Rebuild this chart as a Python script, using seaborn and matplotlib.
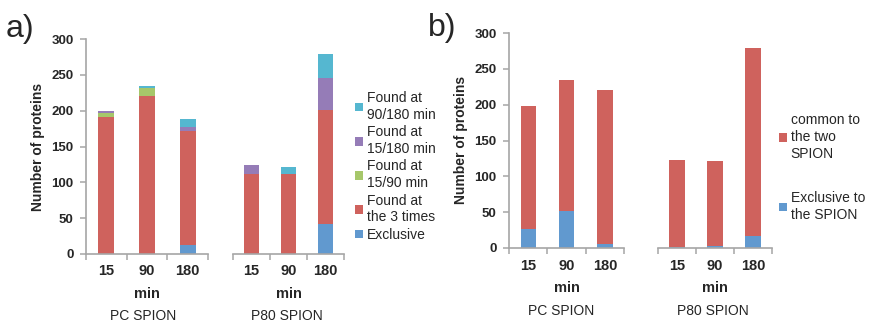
import matplotlib
matplotlib.use("Agg")
import matplotlib.pyplot as plt
from matplotlib.patches import Patch
import numpy as np
import pandas as pd
import seaborn as sns

# ---- data ----
times = ["15", "90", "180"]

# panel a: proteins per incubation time, split by where they were found
pc_exclusive = [0, 0, 12]
pc_three_times = [191, 220, 160]
pc_15_90 = [6, 12, 0]
pc_15_180 = [3, 0, 5]
pc_90_180 = [0, 2, 12]

p80_exclusive = [0, 0, 42]
p80_three_times = [112, 112, 159]
p80_15_90 = [0, 0, 0]
p80_15_180 = [12, 0, 44]
p80_90_180 = [0, 10, 34]

# panel b: proteins exclusive to one SPION vs common to both
pc_excl_b = [27, 51, 5]
pc_common_b = [171, 184, 216]
p80_excl_b = [1, 3, 17]
p80_common_b = [122, 118, 262]

labels_a = ["Exclusive", "Found at\nthe 3 times", "Found at\n15/90 min",
            "Found at\n15/180 min", "Found at\n90/180 min"]
labels_b = ["Exclusive to\nthe SPION", "common to\nthe two\nSPION"]
groups = ["PC SPION", "P80 SPION"]

C_BLUE = "#6199CF"
C_RED = "#CF625D"
C_GREEN = "#A6C76A"
C_PURPLE = "#957CB7"
C_CYAN = "#55B7D0"
colors_a = [C_BLUE, C_RED, C_GREEN, C_PURPLE, C_CYAN]
colors_b = [C_BLUE, C_RED]

sns.set_theme(style="white")
plt.rcParams["font.family"] = ["Liberation Sans", "DejaVu Sans"]

W, H = 873, 323
fig = plt.figure(figsize=(W / 100, H / 100), dpi=100)


def px_axes(x0, x1, y_top, y_bot):
    return fig.add_axes([x0 / W, 1 - y_bot / H, (x1 - x0) / W, (y_bot - y_top) / H])


GRAY = "#A6A6A6"


def stacked(ax, layers, colors, show_y):
    # draw cumulative totals from the top layer down so each segment shows
    cum = np.cumsum(np.array(layers, dtype=float), axis=0)
    for i in range(len(layers) - 1, -1, -1):
        df = pd.DataFrame({"t": times, "v": cum[i]})
        sns.barplot(data=df, x="t", y="v", ax=ax, color=colors[i], width=0.4,
                    saturation=1, edgecolor="none", linewidth=0)
    ax.set_ylim(0, 300)
    ax.set_xlim(-0.5, 2.5)
    ax.set_xlabel("")
    ax.set_ylabel("")
    for s in ["top", "right"]:
        ax.spines[s].set_visible(False)
    ax.spines["bottom"].set_color(GRAY)
    ax.spines["bottom"].set_linewidth(1.2)
    ax.set_xticks([0, 1, 2])
    ax.set_xticklabels([])
    ax.set_xticks([-0.5, 0.5, 1.5, 2.5], minor=True)
    ax.tick_params(axis="x", which="major", length=0)
    ax.tick_params(axis="x", which="minor", length=4, width=1.1, color=GRAY,
                   direction="out", bottom=True)
    ax.set_yticks(range(0, 301, 50))
    if show_y:
        ax.spines["left"].set_color(GRAY)
        ax.spines["left"].set_linewidth(1.2)
        ax.tick_params(axis="y", length=4, width=1.1, color=GRAY, direction="out",
                       left=True, pad=5, labelsize=9.5)
        for lab in ax.get_yticklabels():
            lab.set_fontweight("bold")
    else:
        ax.spines["left"].set_visible(False)
        ax.tick_params(axis="y", left=False, labelleft=False)


def ftext(x, y, s, **kw):
    fig.text(x / W, 1 - y / H, s, ha="center", va="center", **kw)


def group_labels(x0, x1, y_tick, y_min, y_name, name, name_dx):
    xs = np.linspace(x0, x1, 7)[1::2]
    for xp, t in zip(xs, times):
        ftext(xp, y_tick, t, fontsize=10.5, fontweight="bold")
    ftext((x0 + x1) / 2, y_min, "min", fontsize=10.5, fontweight="bold")
    ftext((x0 + x1) / 2 + name_dx, y_name, name, fontsize=10)


def legend(handles, labels, x, y, spacing):
    leg = fig.legend(handles, labels, loc="upper left",
                     bbox_to_anchor=(x / W, 1 - y / H), frameon=False, fontsize=10,
                     handlelength=0.6, handleheight=0.6, handletextpad=0.25,
                     labelspacing=spacing, borderpad=0, borderaxespad=0)
    for t in leg.get_texts():
        t.set_linespacing(1.25)
    return leg


# ---- panel a ----
a1 = px_axes(86, 208, 39, 254)
a2 = px_axes(233, 344, 39, 254)
stacked(a1, [pc_exclusive, pc_three_times, pc_15_90, pc_15_180, pc_90_180], colors_a, True)
stacked(a2, [p80_exclusive, p80_three_times, p80_15_90, p80_15_180, p80_90_180], colors_a, False)
group_labels(86, 208, 271, 294, 316, groups[0], -4)
group_labels(233, 344, 271, 294, 316, groups[1], -2)
ftext(38, 147, "Number of proteins", fontsize=10, fontweight="bold", rotation=90)
ftext(20, 29, "a)", fontsize=23)

handles_a = [Patch(facecolor=c, edgecolor="none") for c in colors_a][::-1]
legend(handles_a, labels_a[::-1], 355, 91, 0.25)

# ---- panel b ----
b1 = px_axes(509, 624, 33, 248)
b2 = px_axes(658, 772, 33, 248)
stacked(b1, [pc_excl_b, pc_common_b], colors_b, True)
stacked(b2, [p80_excl_b, p80_common_b], colors_b, False)
group_labels(509, 624, 266, 288, 311, groups[0], -5)
group_labels(658, 772, 266, 288, 311, groups[1], -2)
ftext(461, 140, "Number of proteins", fontsize=10, fontweight="bold", rotation=90)
ftext(442, 28, "b)", fontsize=23)

handles_b = [Patch(facecolor=c, edgecolor="none") for c in colors_b][::-1]
legend(handles_b, labels_b[::-1], 779, 113, 2.2)

fig.savefig("out.png", dpi=100)
